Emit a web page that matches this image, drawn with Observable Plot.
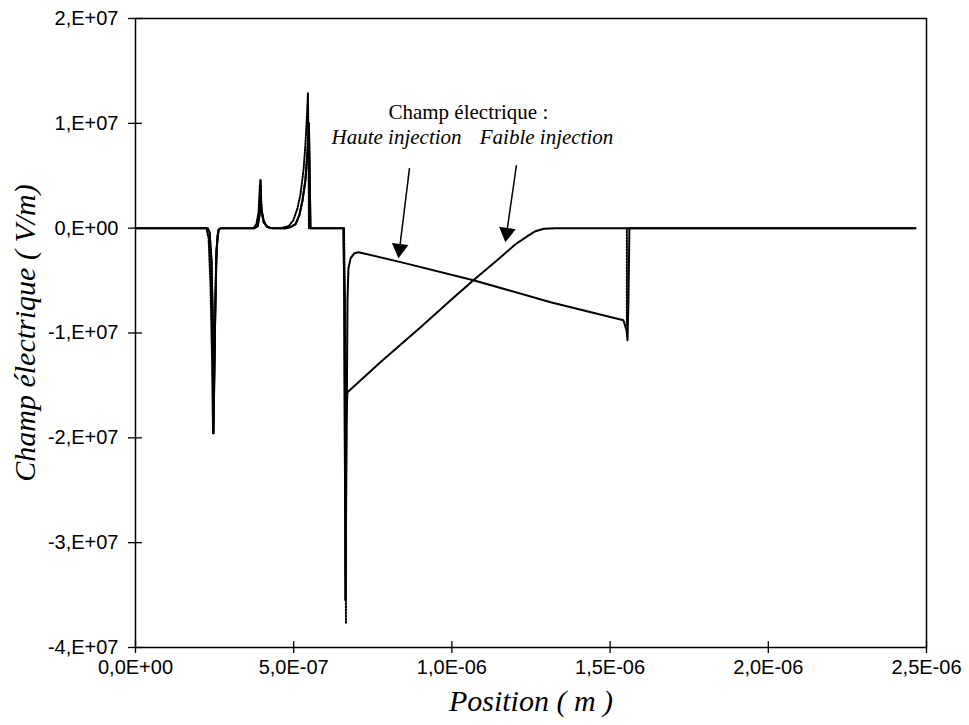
<!DOCTYPE html>
<html>
<head>
<meta charset="utf-8">
<script src="https://cdn.jsdelivr.net/npm/d3@7"></script>
<script src="https://cdn.jsdelivr.net/npm/@observablehq/plot@0.6"></script>
<style>
  body { margin: 0; background: #fff; }
</style>
</head>
<body>
<div id="chart"></div>
<script>
// ---------- Data ----------
// "Haute injection" (solid)
const hauteX = [0, 2.28e-7, 2.34e-7, 2.40e-7, 2.45e-7, 2.465e-7, 2.51e-7, 2.56e-7, 2.62e-7, 2.69e-7,
  3.76e-7, 3.86e-7, 3.92e-7, 3.95e-7, 3.98e-7, 4.05e-7, 4.17e-7, 4.33e-7,
  4.74e-7, 4.90e-7, 5.06e-7, 5.18e-7, 5.28e-7, 5.37e-7, 5.44e-7, 5.48e-7, 5.53e-7,
  6.574e-7, 6.60e-7, 6.637e-7, 6.669e-7, 6.70e-7, 6.73e-7, 6.80e-7, 6.92e-7, 7.05e-7,
  8.38e-7, 1.068e-6, 1.312e-6, 1.542e-6, 1.552e-6, 1.555e-6, 1.558e-6, 1.561e-6, 2.465e-6];
const hauteY = [0, 0, -3.8e5, -3.05e6, -9.7e6, -1.956e7, -9.7e6, -2.1e6, -1.9e5, 0,
  0, 1.9e5, 1.24e6, 4.58e6, 1.7e6, 5.7e5, 1e5, 0,
  0, 1e5, 3.8e5, 1.24e6, 2.67e6, 4.58e6, 7.44e6, 1.0e7, 0,
  0, -6.9e6, -3.55e7, -2.118e7, -6.87e6, -3.82e6, -2.86e6, -2.39e6, -2.29e6,
  -3.24e6, -4.96e6, -7.06e6, -8.78e6, -9.73e6, -1.069e7, -6.87e6, 0, 0];

// "Faible injection" (solid)
const faibleX = [0, 2.28e-7, 2.34e-7, 2.40e-7, 2.45e-7, 2.465e-7, 2.51e-7, 2.56e-7, 2.62e-7, 2.69e-7,
  3.76e-7, 3.86e-7, 3.92e-7, 3.95e-7, 3.98e-7, 4.05e-7, 4.17e-7, 4.33e-7,
  4.74e-7, 4.90e-7, 5.06e-7, 5.18e-7, 5.28e-7, 5.37e-7, 5.44e-7, 5.48e-7, 5.53e-7,
  6.574e-7, 6.60e-7, 6.637e-7, 6.66e-7, 6.70e-7, 7.74e-7, 9.01e-7, 9.96e-7, 1.068e-6,
  1.154e-6, 1.201e-6, 1.239e-6, 1.264e-6, 1.29e-6, 1.327e-6, 2.465e-6];
const faibleY = [0, 0, -3.8e5, -3.05e6, -9.7e6, -1.956e7, -9.7e6, -2.1e6, -1.9e5, 0,
  0, 1.9e5, 1.24e6, 4.58e6, 1.7e6, 5.7e5, 1e5, 0,
  0, 1e5, 3.8e5, 1.24e6, 2.67e6, 4.58e6, 7.44e6, 1.0e7, 0,
  0, -6.9e6, -3.55e7, -1.832e7, -1.565e7, -1.279e7, -9.45e6, -6.87e6, -4.96e6,
  -2.77e6, -1.53e6, -7.6e5, -2.9e5, -5e4, 0, 0];

// dotted trace visible at the spikes (segment id, x, y)
const dotSeg = ["a","a","a","a","a","a","a","a","a",
  "b","b","b","b","b","b","b","b",
  "c","c","c","c","c","c","c","c","c","c","c",
  "d","d","d",
  "e","e"];
const dotX = [2.24e-7, 2.31e-7, 2.37e-7, 2.42e-7, 2.45e-7, 2.50e-7, 2.54e-7, 2.59e-7, 2.65e-7,
  3.73e-7, 3.82e-7, 3.89e-7, 3.93e-7, 3.98e-7, 4.05e-7, 4.14e-7, 4.27e-7,
  4.58e-7, 4.84e-7, 4.99e-7, 5.12e-7, 5.21e-7, 5.31e-7, 5.37e-7, 5.42e-7, 5.45e-7, 5.47e-7, 5.48e-7,
  6.59e-7, 6.62e-7, 6.652e-7,
  1.553e-6, 1.553e-6];
const dotY = [0, -9.5e5, -5.44e6, -1.26e7, -1.956e7, -1.26e7, -4.0e6, -6.7e5, 0,
  0, 3.8e5, 1.53e6, 4.1e6, 1.91e6, 7.6e5, 1.9e5, 0,
  0, 1.9e5, 7.6e5, 1.91e6, 3.15e6, 5.53e6, 7.92e6, 1.078e7, 1.288e7, 7.44e6, 0,
  0, -6.9e6, -3.77e7,
  0, -9.26e6];

// axis ticks
const xTickValues = [0, 5e-7, 1e-6, 1.5e-6, 2e-6, 2.5e-6];
const xTickLabels = ["0,0E+00", "5,0E-07", "1,0E-06", "1,5E-06", "2,0E-06", "2,5E-06"];
const yTickValues = [2e7, 1e7, 0, -1e7, -2e7, -3e7, -4e7];
const yTickLabels = ["2,E+07", "1,E+07", "0,E+00", "-1,E+07", "-2,E+07", "-3,E+07", "-4,E+07"];

// annotations
const annotText = ["Champ électrique :", "Haute injection", "Faible injection"];
const annotX = [1.052e-6, 8.25e-7, 1.299e-6];
const annotY = [1.107e7, 8.68e6, 8.68e6];
const annotItalic = [false, true, true];
const arrowX1 = [8.66e-7, 1.204e-6];
const arrowY1 = [5.73e6, 6.01e6];
const arrowX2 = [8.31e-7, 1.169e-6];
const arrowY2 = [-2.86e6, -1.34e6];

const xTitle = "Position ( m )";
const yTitle = "Champ électrique ( V/m)";

// ---------- Build ----------
const W = 969, H = 725;
const mL = 135, mR = 43, mT = 18, mB = 78;
const xDomain = [0, 2.5e-6], yDomain = [-4e7, 2e7];
const kx = (W - mL - mR) / (xDomain[1] - xDomain[0]);
const ky = (H - mT - mB) / (yDomain[1] - yDomain[0]);

const haute = hauteX.map((x, i) => ({x, y: hauteY[i]}));
const faible = faibleX.map((x, i) => ({x, y: faibleY[i]}));
const dotted = dotX.map((x, i) => ({x, y: dotY[i], seg: dotSeg[i]}));
const annots = annotText.map((t, i) => ({t, x: annotX[i], y: annotY[i], italic: annotItalic[i]}));
const arrows = arrowX1.map((x1, i) => {
  const x2 = arrowX2[i], y1 = arrowY1[i], y2 = arrowY2[i];
  const dxp = (x2 - x1) * kx, dyp = -(y2 - y1) * ky;
  const len = Math.hypot(dxp, dyp);
  const f = 1 - 9.5 / len;
  return {x1, y1, x2, y2,
    hx: x1 + (x2 - x1) * f, hy: y1 + (y2 - y1) * f,
    angle: Math.atan2(dxp, -dyp) * 180 / Math.PI};
});

const serif = "'Liberation Serif', 'Times New Roman', serif";
const sans = "'Liberation Sans', Arial, sans-serif";

const chart = Plot.plot({
  width: W, height: H,
  marginLeft: mL, marginRight: mR, marginTop: mT, marginBottom: mB,
  x: {domain: xDomain},
  y: {domain: yDomain},
  style: {fontFamily: sans, fontSize: "20px", color: "black", background: "white"},
  marks: [
    Plot.frame({stroke: "black", strokeWidth: 1.5}),
    // tick marks crossing the axes
    Plot.axisX(xTickValues, {tickSize: 12, dy: -6, tickFormat: () => "", label: null, strokeWidth: 1.3}),
    Plot.axisY(yTickValues, {tickSize: 14, dx: 7, tickFormat: () => "", label: null, strokeWidth: 1.3}),
    // tick labels
    Plot.axisX(xTickValues, {tickSize: 0, tickPadding: 12, label: null,
      tickFormat: d => xTickLabels[xTickValues.indexOf(d)], fontSize: 20}),
    Plot.axisY(yTickValues, {tickSize: 0, tickPadding: 17, label: null,
      tickFormat: d => yTickLabels[yTickValues.indexOf(d)], fontSize: 20}),
    // axis titles
    Plot.text([xTitle], {frameAnchor: "bottom", lineAnchor: "middle", dy: 54, fontFamily: serif, fontStyle: "italic", fontSize: 30, fill: "black"}),
    Plot.text([yTitle], {frameAnchor: "left", textAnchor: "middle", lineAnchor: "middle", dx: -110, rotate: -90, fontFamily: serif, fontStyle: "italic", fontSize: 30, fill: "black"}),
    // curves
    Plot.line(dotted, {x: "x", y: "y", z: "seg", stroke: "black", strokeWidth: 2, strokeDasharray: "1.5,1.5"}),
    Plot.line(haute, {x: "x", y: "y", stroke: "black", strokeWidth: 2}),
    Plot.line(faible, {x: "x", y: "y", stroke: "black", strokeWidth: 2}),
    // annotations
    Plot.text(annots.filter(d => !d.italic), {x: "x", y: "y", text: "t", fontFamily: serif, fontSize: 21, fill: "black"}),
    Plot.text(annots.filter(d => d.italic), {x: "x", y: "y", text: "t", fontFamily: serif, fontStyle: "italic", fontSize: 21, fill: "black"}),
    Plot.link(arrows, {x1: "x1", y1: "y1", x2: "hx", y2: "hy", stroke: "black", strokeWidth: 1.5}),
    Plot.dot(arrows, {x: "hx", y: "hy", symbol: "triangle", r: 6.2, fill: "black", stroke: "none", rotate: "angle"})
  ]
});
document.getElementById("chart").append(chart);
</script>
</body>
</html>
